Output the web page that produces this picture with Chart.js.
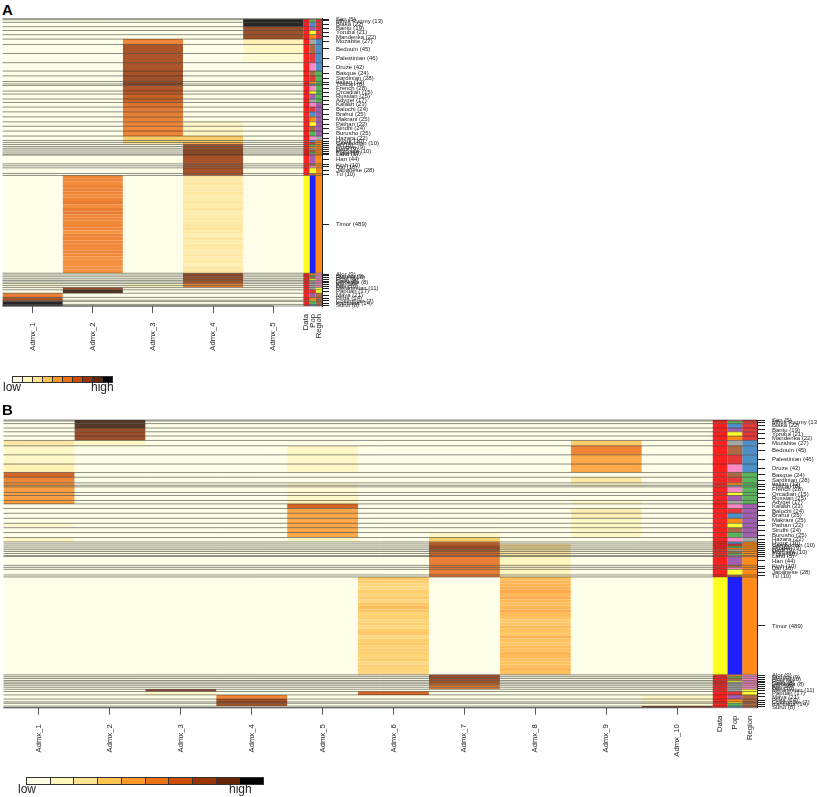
<!DOCTYPE html>
<html lang="en">
<head>
    <meta charset="UTF-8">
    <title>Admixture heatmaps</title>
    <script src="https://cdn.jsdelivr.net/npm/chart.js"></script>
    <style>
        body { margin: 0; background: #ffffff; font-family: "Liberation Sans", Arial, sans-serif; }
        canvas { position: absolute; left: 0; filter: blur(0.3px); }
        .tag { position: absolute; left: 2px; font-weight: bold; font-size: 15px; color: #000; }
        .key { position: absolute; display: flex; border: 1px solid #333; box-sizing: border-box; }
        .key div { flex: 1; border-right: 1px solid #333; }
        .key div:last-child { border-right: 0; }
        .word { position: absolute; font-size: 12px; color: #222; }
    </style>
</head>
<body>
    <div class="tag" style="top:1px">A</div>
    <canvas id="panel-a" width="817" height="400" style="top:0"></canvas>
    <div class="key" id="key-a" style="left:12px;top:376px;width:101px;height:7px"></div>
    <div class="word" style="left:3px;top:380px">low</div>
    <div class="word" style="left:91px;top:380px">high</div>

    <div class="tag" style="top:401px">B</div>
    <canvas id="panel-b" width="817" height="397" style="top:400px"></canvas>
    <div class="key" id="key-b" style="left:26px;top:777px;width:238px;height:8px"></div>
    <div class="word" style="left:18px;top:782px">low</div>
    <div class="word" style="left:229px;top:782px">high</div>

    <script>
        // Populations top to bottom, sample sizes set the row heights
        const popNames = [
            "San", "Mbuti Pygmy", "Biaka", "Bantu", "Yoruba", "Mandenka",
            "Mozabite", "Bedouin", "Palestinian", "Druze",
            "Basque", "Sardinian", "Italian", "Tuscan", "French", "Orcadian", "Russian", "Adygei",
            "Kalash", "Balochi", "Brahui", "Makrani", "Pathan", "Sindhi", "Burusho", "Hazara",
            "Uygur", "Cambodian", "Yi", "Oroqen", "Daur", "Mongola", "Tujia", "Lahu", "Han", "Kinh", "Dai", "Japanese", "Tu",
            "Timor",
            "Alor", "Sumba", "Flores", "Rote", "Savu", "Lembata", "Kei", "Bali",
            "Melanesian", "Papuan",
            "Maya", "Pima", "Colombian", "Karitiana", "Surui"
        ];
        const popSizes = [
            5, 13, 22, 19, 21, 22,
            27, 45, 46, 42,
            24, 28, 12, 8, 28, 15, 25, 17,
            23, 24, 25, 25, 22, 24, 25, 22,
            10, 10, 10, 9, 9, 10, 10, 5, 44, 10, 10, 28, 10,
            489,
            9, 9, 10, 8, 8, 8, 10, 10,
            11, 17,
            21, 14, 7, 14, 8
        ];

        // Side colour bars
        const dataColors = [
            "R", "R", "R", "R", "R", "R",
            "R", "R", "R", "R",
            "R", "R", "R", "R", "R", "R", "R", "R",
            "R", "R", "R", "R", "R", "R", "R", "R",
            "R", "R", "R", "R", "R", "R", "R", "R", "R", "R", "R", "R", "R",
            "Y",
            "R", "R", "R", "R", "R", "R", "R", "R",
            "R", "R",
            "R", "R", "R", "R", "R"
        ];
        const popColors = [
            "pink", "green", "blue", "purple", "yellow", "orange",
            "grey", "brown", "red", "pink",
            "brown", "red", "orange", "blue", "pink", "yellow", "purple", "grey",
            "pink", "red", "blue", "orange", "yellow", "brown", "green", "pink",
            "blue", "red", "green", "orange", "grey", "brown", "green", "pink", "purple", "brown", "pink", "yellow", "brown",
            "deepblue",
            "orange", "green", "brown", "yellow", "grey", "grey", "grey", "grey",
            "grey", "red",
            "purple", "orange", "yellow", "green", "blue"
        ];
        const regionColors = [
            "red", "red", "red", "red", "red", "red",
            "blue", "blue", "blue", "blue",
            "green", "green", "green", "green", "green", "green", "green", "green",
            "purple", "purple", "purple", "purple", "purple", "purple", "purple", "grey",
            "orange", "orange", "orange", "orange", "orange", "orange", "orange", "orange", "orange", "orange", "orange", "orange", "orange",
            "orange",
            "pink", "pink", "pink", "pink", "pink", "pink", "pink", "pink",
            "yellow", "yellow",
            "brown", "brown", "brown", "brown", "brown"
        ];

        // Admixture levels, 0 = low .. 9 = high
        const admxA1 = [
            0, 0, 0, 0, 0, 0,
            0, 0, 0, 0,
            0, 0, 0, 0, 0, 0, 0, 0,
            0, 0, 0, 0, 0, 0, 0, 0,
            0, 0, 0, 0, 0, 0, 0, 0, 0, 0, 0, 0, 0,
            0,
            0, 0, 0, 0, 0, 0, 0.5, 0.5,
            0, 0,
            5.2, 6.8, 7, 9, 9
        ];
        const admxA2 = [
            0, 0, 0, 0, 0, 0,
            0, 0, 0, 0,
            0, 0, 0, 0, 0, 0, 0, 0,
            0, 0, 0, 0, 0, 0, 0, 0,
            0, 0, 0, 0, 0, 0, 0, 0, 0, 0, 0, 0, 0,
            5,
            0, 0, 0, 0, 0, 0, 0, 0,
            7.3, 8.5,
            0, 0, 0, 0, 0
        ];
        const admxA3 = [
            0, 0, 0, 0, 0, 0,
            5, 6.9, 6.9, 6.9,
            7, 7.2, 7.5, 7.5, 6.8, 6.5, 6.3, 6.2,
            5.6, 5.4, 5.2, 5.2, 5, 5, 5, 3,
            3, 2, 0, 0, 0, 0, 0, 0, 0, 0, 0, 0, 0,
            0,
            0, 0, 0, 0, 0, 0, 1, 1,
            0, 0,
            0, 0, 0, 0, 0
        ];
        const admxA4 = [
            0, 0, 0, 0, 0, 0,
            0, 0, 0, 0,
            0, 0, 0, 0, 0, 0, 0, 0,
            0, 0, 0, 0, 1, 1, 1, 3,
            3, 4, 7, 7, 7, 7, 7, 7, 7, 7, 7, 7, 7,
            2,
            7.2, 7.2, 7, 7, 6.5, 6, 5.2, 5.2,
            0, 0,
            0, 0, 0, 0, 0
        ];
        const admxA5 = [
            9, 9, 9, 7.3, 7.3, 7.3,
            1.5, 1, 0.7, 0,
            0, 0, 0, 0, 0, 0, 0, 0,
            0, 0, 0, 0, 0, 0, 0, 0,
            0, 0, 0, 0, 0, 0, 0, 0, 0, 0, 0, 0, 0,
            0,
            0, 0, 0, 0, 0, 0, 0, 0,
            0, 0,
            0, 0, 0, 0, 0
        ];

        const admxB1 = [
            0, 0, 0, 0, 0, 0,
            2, 1, 1, 1.5,
            6, 5, 4.6, 4.6, 4.3, 4.3, 4.3, 4.3,
            0, 0, 0, 0, 0.7, 0, 0, 1,
            0, 0, 0, 0, 0, 0, 0, 0, 0, 0, 0, 0, 0,
            0,
            0, 0, 0, 0, 0, 0, 0, 0,
            0, 0,
            0, 0, 0, 0, 0
        ];
        const admxB2 = [
            8.4, 8.4, 8.4, 7.3, 7.3, 7.3,
            1, 0, 0, 0,
            0, 0, 0, 0, 0, 0, 0, 0,
            0, 0, 0, 0, 0, 0, 0, 0,
            0, 0, 0, 0, 0, 0, 0, 0, 0, 0, 0, 0, 0,
            0,
            0, 0, 0, 0, 0, 0, 0, 0,
            0, 0,
            0, 0, 0, 0, 0
        ];
        const admxB3 = [
            0, 0, 0, 0, 0, 0,
            0, 0, 0, 0,
            0, 0, 0, 0, 0, 0, 0, 0,
            0, 0, 0, 0, 0, 0, 0, 0,
            0, 0, 0, 0, 0, 0, 0, 0, 0, 0, 0, 0, 0,
            0,
            0, 0, 0, 0, 0, 0, 0, 0,
            8, 1,
            0, 0, 0, 0, 0
        ];
        const admxB4 = [
            0, 0, 0, 0, 0, 0,
            0, 0, 0, 0,
            0, 0, 0, 0, 0, 0, 0, 0,
            0, 0, 0, 0, 0, 0, 0, 0,
            0, 0, 0, 0, 0, 0, 0, 0, 0, 0, 0, 0, 0,
            0,
            0, 0, 0, 0, 0, 0, 0, 0,
            0, 0,
            5, 7, 7, 7, 0
        ];
        const admxB5 = [
            0, 0, 0, 0, 0, 0,
            0, 1, 1, 1,
            0, 0, 0.7, 0.7, 0.7, 0.7, 1, 1.5,
            6, 4, 4, 4, 4, 4, 4, 1,
            0, 0, 0, 0, 0, 0, 0, 0, 0, 0, 0, 0, 0,
            0,
            0, 0, 0, 0, 0, 0, 0, 0,
            0, 0,
            0, 0, 0, 0, 0
        ];
        const admxB6 = [
            0, 0, 0, 0, 0, 0,
            0, 0, 0, 0,
            0, 0, 0, 0, 0, 0, 0, 0,
            0, 0, 0, 0, 0, 0, 0, 0,
            0, 0, 0, 0, 0, 0, 0, 0, 0, 0, 0, 0, 0,
            3,
            0, 0, 0, 0, 0, 0, 0, 0,
            0, 6,
            0, 0, 0, 0, 0
        ];
        const admxB7 = [
            0, 0, 0, 0, 0, 0,
            0, 0, 0, 0,
            0, 0, 0, 0, 0, 0, 0, 0,
            0, 0, 0, 0, 0, 0, 1, 3,
            5.5, 6, 6.8, 6.8, 6.8, 6, 6, 6, 5.2, 5.2, 5.2, 5.2, 5.2,
            0,
            7, 7, 7, 6.6, 6, 6, 5.2, 5.2,
            0, 0,
            0, 0, 0, 0, 0
        ];
        const admxB8 = [
            0, 0, 0, 0, 0, 0,
            0, 0, 0, 0,
            0, 0, 0, 0, 0, 0, 0, 0,
            0, 0, 0, 0, 0, 0, 0, 0,
            0, 2, 2, 2, 2, 2, 2, 2, 1.2, 1.2, 1.2, 1.2, 1.2,
            3,
            0, 0, 0, 0, 0, 0, 0, 0,
            0, 0,
            0, 0, 0, 0, 0
        ];
        const admxB9 = [
            0, 0, 0, 0, 0, 0,
            3, 5, 4, 4,
            0, 2, 1, 1, 0, 0, 0, 1,
            0, 1.5, 1.5, 1, 1, 1, 1, 0,
            0, 0, 0, 0, 0, 0, 0, 0, 0, 0, 0, 0, 0,
            0,
            0, 0, 0, 0, 0, 0, 0, 0,
            0, 0,
            0, 0, 0, 0, 0
        ];
        const admxB10 = [
            0, 0, 0, 0, 0, 0,
            0, 0, 0, 0,
            0, 0, 0, 0, 0, 0, 0, 0,
            0, 0, 0, 0, 0, 0, 0, 0,
            0, 0, 0, 0, 0, 0, 0, 0, 0, 0, 0, 0, 0,
            0,
            0, 0, 0, 0, 0, 0, 0, 0,
            0, 0,
            1, 0.7, 0.7, 0.7, 8
        ];

        // Timor is big enough to show streaks inside the block
        const timorBands = [
            16, 16, 16, 16, 16, 16, 16, 16, 16, 19,
            16, 16, 16, 16, 16, 16, 16, 16, 16, 19,
            16, 16, 16, 16, 16, 16, 16, 16, 16, 19
        ];
        const timorA2 = [
            5, 5, 4.8, 5, 5.1, 5, 4.8, 5, 5.3, 4.8,
            5.2, 5.3, 5, 5, 4.9, 5, 5, 4.6, 5.1, 5,
            5, 4.9, 4.8, 5, 4.9, 4.7, 4.7, 4.6, 4.7, 4.7
        ];
        const timorA4 = [
            2, 1.8, 2, 1.7, 2, 2.1, 1.8, 1.7, 2, 1.8,
            2, 1.7, 1.9, 2, 1.8, 2, 2.2, 1.9, 1.6, 2,
            1.8, 2, 1.9, 1.7, 2, 1.8, 1.9, 1.4, 2, 2
        ];
        const timorB6 = [
            3.1, 2.9, 2.7, 2.5, 2.9, 2.7, 3.1, 2.6, 3.2, 3.4,
            3.2, 2.8, 2.9, 2.7, 3, 2.6, 3, 3.1, 2.6, 2.9,
            3.1, 2.8, 2.9, 2.9, 2.7, 3, 2.6, 2.9, 2.8, 2.6
        ];
        const timorB8 = [
            3.4, 3.6, 3.7, 3.8, 4, 3.6, 3.9, 3.6, 3.4, 3.6,
            3.9, 3.5, 3.3, 3.1, 3.2, 3.5, 3.3, 3.1, 3.7, 3.3,
            3.2, 3.5, 3.4, 3.6, 3.5, 3.4, 3.3, 3.4, 3.6, 3.3
        ];

        const levelColors = ["#FFFFE5", "#FFF7BC", "#FEE391", "#FEC44F", "#FE9929", "#EC7014", "#CC4C02", "#993404", "#662506", "#000000"];
        const sideColors = {
            R: "#FF2020", Y: "#FFFF20", deepblue: "#2020FF",
            red: "#E4383A", blue: "#4F90C8", green: "#58B55A", purple: "#A25FB0", orange: "#FF8C1A",
            yellow: "#FFFF33", brown: "#AE6A45", pink: "#F98AC4", grey: "#A5A5A5"
        };

        // Level to colour, the heat cells are washed slightly towards white
        const hexToRgb = (hex) => [1, 3, 5].map((i) => parseInt(hex.slice(i, i + 2), 16));
        const levelColor = (v) => {
            const low = Math.floor(v);
            const high = Math.min(low + 1, levelColors.length - 1);
            const a = hexToRgb(levelColors[low]);
            const b = hexToRgb(levelColors[high]);
            const mixed = a.map((c, i) => c + (b[i] - c) * (v - low));
            return "rgb(" + mixed.map((c) => Math.round(c * 0.85 + 255 * 0.15)).join(",") + ")";
        };

        const rowEdges = [0];
        popSizes.forEach((n, i) => rowEdges.push(rowEdges[i] + n));
        const totalSize = rowEdges[popSizes.length];
        const timorIndex = popNames.indexOf("Timor");

        // Cells of one column: one floating bar per population, Timor split into bands
        const columnCells = (xMid, colors, bands) => {
            const data = [];
            const backgroundColor = [];
            colors.forEach((color, i) => {
                if (i === timorIndex && bands) {
                    let y = rowEdges[i];
                    timorBands.forEach((n, j) => {
                        data.push({ x: xMid, y: [y, y + n] });
                        backgroundColor.push(levelColor(bands[j]));
                        y += n;
                    });
                } else {
                    data.push({ x: xMid, y: [rowEdges[i], rowEdges[i + 1]] });
                    backgroundColor.push(color);
                }
            });
            return { data, backgroundColor };
        };

        const drawPanel = (id, cfg) => {
            const plotWidth = cfg.plotRight - cfg.plotLeft;
            const nAdmx = cfg.columns.length;
            const xMax = nAdmx + cfg.sideWidth * 3;
            const pxPerUnit = plotWidth / xMax;
            const datasets = [];
            const xTicks = [];
            const xLabels = [];

            cfg.columns.forEach((levels, i) => {
                const cells = columnCells(i + 0.5, levels.map(levelColor), cfg.bands[i]);
                datasets.push({ ...cells, grouped: false, barPercentage: 100, maxBarThickness: pxPerUnit });
                xTicks.push(i + 0.5);
                xLabels.push("Admx_" + (i + 1) + "    ");
            });
            [["Data", dataColors], ["Pop", popColors], ["Region", regionColors]].forEach(([name, keys], i) => {
                const xMid = nAdmx + cfg.sideWidth * (i + 0.5);
                const cells = columnCells(xMid, keys.map((k) => sideColors[k]));
                datasets.push({ ...cells, grouped: false, barPercentage: 100, maxBarThickness: cfg.sideWidth * pxPerUnit });
                xTicks.push(xMid);
                xLabels.push(name);
            });

            // Lines between populations and the axis rule under the Admx columns
            const rowLines = {
                id: "rowLines",
                afterDatasetsDraw(chart) {
                    const { ctx, chartArea, scales } = chart;
                    ctx.save();
                    ctx.strokeStyle = "rgba(50, 50, 40, 0.55)";
                    ctx.lineWidth = 1;
                    rowEdges.forEach((edge) => {
                        const y = scales.y.getPixelForValue(edge);
                        ctx.beginPath();
                        ctx.moveTo(chartArea.left, y);
                        ctx.lineTo(chartArea.right, y);
                        ctx.stroke();
                    });
                    ctx.strokeStyle = "#555";
                    ctx.beginPath();
                    ctx.moveTo(chartArea.left, chartArea.bottom);
                    ctx.lineTo(scales.x.getPixelForValue(xTicks[nAdmx - 1]), chartArea.bottom);
                    ctx.stroke();
                    ctx.restore();
                }
            };

            new Chart(document.getElementById(id), {
                type: "bar",
                data: { datasets },
                options: {
                    responsive: false,
                    animation: false,
                    layout: { autoPadding: false, padding: { left: cfg.plotLeft, top: cfg.plotTop, right: 0, bottom: 0 } },
                    plugins: { legend: { display: false }, tooltip: { enabled: false } },
                    scales: {
                        x: {
                            type: "linear",
                            offset: false,
                            min: 0,
                            max: xMax,
                            afterBuildTicks: (scale) => { scale.ticks = xTicks.map((value) => ({ value })); },
                            afterFit: (scale) => { scale.height = cfg.xAxisHeight; },
                            border: { display: false },
                            grid: {
                                offset: false,
                                drawOnChartArea: false,
                                tickLength: 7,
                                tickColor: (c) => (c.index < nAdmx ? "#555" : "rgba(0,0,0,0)")
                            },
                            ticks: {
                                autoSkip: false,
                                minRotation: 90,
                                maxRotation: 90,
                                padding: 1,
                                color: "#222",
                                font: { size: 7.7 },
                                callback: (value, index) => xLabels[index]
                            }
                        },
                        y: {
                            type: "linear",
                            position: "right",
                            reverse: true,
                            stacked: false,
                            min: 0,
                            max: totalSize,
                            afterBuildTicks: (scale) => {
                                scale.ticks = popSizes.map((n, i) => ({ value: rowEdges[i] + n / 2 }));
                            },
                            afterFit: (scale) => { scale.width = 817 - cfg.plotRight; },
                            border: { display: true, color: "#222", width: 1 },
                            grid: { drawOnChartArea: false, tickLength: cfg.tickLength, tickColor: "#222" },
                            ticks: {
                                autoSkip: false,
                                padding: 7,
                                color: "#222",
                                font: { size: 6 },
                                callback: (value, index) => popNames[index] + " (" + popSizes[index] + ")"
                            }
                        }
                    }
                },
                plugins: [rowLines]
            });
        };

        Chart.defaults.font.family = '"Liberation Sans", Arial, sans-serif';

        drawPanel("panel-a", {
            plotLeft: 2.5, plotRight: 322, plotTop: 18.7, xAxisHeight: 94, sideWidth: 0.104, tickLength: 7,
            columns: [admxA1, admxA2, admxA3, admxA4, admxA5],
            bands: [null, timorA2, null, timorA4, null]
        });
        drawPanel("panel-b", {
            plotLeft: 3.5, plotRight: 757, plotTop: 20, xAxisHeight: 89.3, sideWidth: 0.209, tickLength: 8,
            columns: [admxB1, admxB2, admxB3, admxB4, admxB5, admxB6, admxB7, admxB8, admxB9, admxB10],
            bands: [null, null, null, null, null, timorB6, null, timorB8, null, null]
        });

        // Colour keys under each panel
        ["key-a", "key-b"].forEach((id) => {
            levelColors.forEach((color) => {
                const cell = document.createElement("div");
                cell.style.background = color;
                document.getElementById(id).appendChild(cell);
            });
        });
    </script>
</body>
</html>
